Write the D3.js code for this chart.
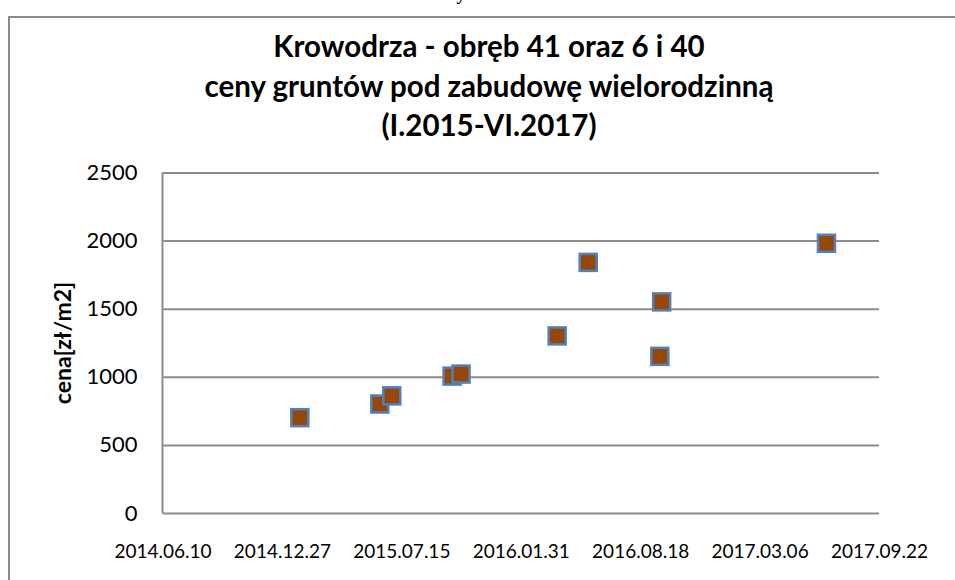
<!DOCTYPE html>
<html>
<head>
<meta charset="utf-8">
<script src="https://cdn.jsdelivr.net/npm/d3@7"></script>
<style>
  html, body { margin: 0; padding: 0; background: #fff; }
  svg { display: block; font-family: Lato, "Open Sans", sans-serif; }
</style>
</head>
<body>
<svg id="chart" width="955" height="580"></svg>
<script>
// Data
var dates = ["2015-01-26", "2015-06-09", "2015-06-29", "2015-10-08", "2015-10-23",
             "2016-04-01", "2016-05-23", "2016-09-20", "2016-09-23", "2017-06-26"];
var prices = [700, 800, 860, 1005, 1020, 1300, 1840, 1150, 1550, 1980];
var xTickLabels = ["2014.06.10", "2014.12.27", "2015.07.15", "2016.01.31",
                   "2016.08.18", "2017.03.06", "2017.09.22"];
var yTicks = [0, 500, 1000, 1500, 2000, 2500];
var titleLines = ["Krowodrza - obręb 41 oraz 6 i 40",
                  "ceny gruntów pod zabudowę wielorodzinną",
                  "(I.2015-VI.2017)"];
var yTitle = "cena[zł/m2]";

(function () {
  var svg = d3.select("#chart");
  var W = 955, H = 580;

  var parseISO = d3.timeParse("%Y-%m-%d");
  var parseTick = d3.timeParse("%Y.%m.%d");
  var tickDates = xTickLabels.map(parseTick);

  // plot area
  var pLeft = 162.5, pRight = 879, pTop = 172.5, pBottom = 513;

  var x = d3.scaleTime()
    .domain([tickDates[0], tickDates[tickDates.length - 1]])
    .range([pLeft, pRight]);
  var y = d3.scaleLinear().domain([0, 2500]).range([pBottom, pTop]);

  // clipped fragment of text above the chart
  svg.append("text")
    .attr("x", 461).attr("y", 0)
    .attr("text-anchor", "middle")
    .attr("font-family", "Liberation Serif, serif")
    .attr("font-size", 18)
    .attr("font-weight", "bold")
    .text("y");

  // chart frame
  svg.append("rect")
    .attr("x", 9).attr("y", 17)
    .attr("width", W + 10).attr("height", H + 10)
    .attr("fill", "#fff")
    .attr("stroke", "#8c8c8c")
    .attr("stroke-width", 2);

  // title
  svg.append("g").selectAll("text")
    .data(titleLines).enter().append("text")
    .attr("x", 489)
    .attr("y", function (d, i) { return 57 + i * 39.5; })
    .attr("text-anchor", "middle")
    .attr("font-size", 29.5)
    .attr("font-weight", "bold")
    .attr("fill", "#000")
    .text(function (d) { return d; });

  // gridlines + y axis
  var yAxis = d3.axisLeft(y).tickValues(yTicks).tickSize(-(pRight - pLeft))
    .tickPadding(25).tickFormat(d3.format("d"));
  var gy = svg.append("g").attr("transform", "translate(" + pLeft + ",0)").call(yAxis);
  gy.select(".domain").remove();
  gy.selectAll(".tick line").attr("stroke", "#8c8c8c").attr("stroke-width", 2);
  gy.selectAll(".tick text").attr("font-size", 22).attr("fill", "#000")
    .attr("font-family", "Lato, sans-serif");

  // vertical axis line
  svg.append("line")
    .attr("x1", pLeft).attr("x2", pLeft)
    .attr("y1", pTop).attr("y2", pBottom)
    .attr("stroke", "#8c8c8c").attr("stroke-width", 2);

  // x axis labels
  var xAxis = d3.axisBottom(x).tickValues(tickDates).tickSize(0).tickPadding(32)
    .tickFormat(function (d, i) { return xTickLabels[i]; });
  var gx = svg.append("g").attr("transform", "translate(0," + pBottom + ")").call(xAxis);
  gx.select(".domain").remove();
  gx.selectAll(".tick text").attr("font-size", 19).attr("fill", "#000")
    .attr("font-family", "Lato, sans-serif");

  // y title
  svg.append("text")
    .attr("transform", "translate(71,343) rotate(-90)")
    .attr("text-anchor", "middle")
    .attr("font-size", 23)
    .attr("font-weight", "bold")
    .text(yTitle);

  // points
  var pts = dates.map(function (d, i) { return { date: parseISO(d), value: prices[i] }; });
  var s = 17;
  svg.append("g").selectAll("rect")
    .data(pts).enter().append("rect")
    .attr("x", function (d) { return x(d.date) - s / 2; })
    .attr("y", function (d) { return y(d.value) - s / 2; })
    .attr("width", s).attr("height", s)
    .attr("fill", "#974706")
    .attr("stroke", "#4f81bd")
    .attr("stroke-width", 2.5);
})();
</script>
</body>
</html>
